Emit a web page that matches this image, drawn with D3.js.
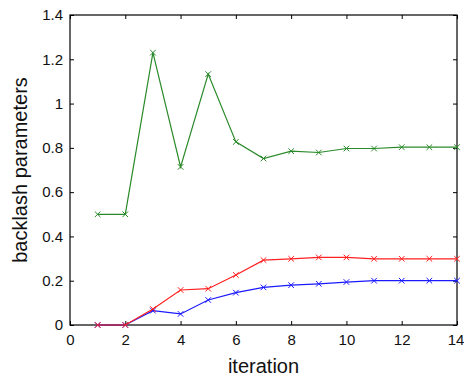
<!DOCTYPE html>
<html>
<head>
  <script src="https://d3js.org/d3.v7.min.js"></script>
  <style>
    body { margin: 0; background: #fff; }
    text { font-family: "Liberation Sans", Arial, sans-serif; }
  </style>
</head>
<body>
<div id="chart"></div>
<script>
// iteration values
const iterations = [1, 2, 3, 4, 5, 6, 7, 8, 9, 10, 11, 12, 13, 14];

// series
const greenVals = [0.50, 0.50, 1.23, 0.714, 1.133, 0.827, 0.752, 0.785, 0.779, 0.797, 0.797, 0.803, 0.803, 0.803];
const blueVals  = [0, 0, 0.065, 0.05, 0.113, 0.146, 0.17, 0.18, 0.186, 0.194, 0.2, 0.2, 0.2, 0.2];
const redVals   = [0, 0, 0.072, 0.158, 0.164, 0.226, 0.293, 0.299, 0.305, 0.305, 0.299, 0.299, 0.299, 0.299];

const xTicks = [0, 2, 4, 6, 8, 10, 12, 14];
const yTicks = [0, 0.2, 0.4, 0.6, 0.8, 1, 1.2, 1.4];
const yTickLabels = ["0", "0.2", "0.4", "0.6", "0.8", "1", "1.2", "1.4"];

const W = 464, H = 378;
const margin = { top: 15, right: 7, bottom: 53, left: 70 };
const width = W - margin.left - margin.right;
const height = H - margin.top - margin.bottom;

const svg = d3.select("#chart").append("svg")
  .attr("width", W)
  .attr("height", H);

const g = svg.append("g")
  .attr("transform", `translate(${margin.left},${margin.top})`);

const x = d3.scaleLinear().domain([0, 14]).range([0, width]);
const y = d3.scaleLinear().domain([0, 1.4]).range([height, 0]);

// axes with inward ticks
function styleAxis(sel, hideText) {
  sel.select(".domain").remove();
  sel.selectAll("line").attr("stroke", "#000");
  sel.selectAll("text")
    .attr("font-size", 15)
    .attr("fill", "#111");
  if (hideText) sel.selectAll("text").remove();
}

g.append("g")
  .attr("transform", `translate(0,${height})`)
  .call(d3.axisBottom(x).tickValues(xTicks).tickSizeInner(-4).tickSizeOuter(0).tickPadding(9).tickFormat(d3.format("d")))
  .call(s => styleAxis(s, false))
  .call(s => s.selectAll("text").filter(d => d === 14).attr("dx", -1.5)); // keep "14" inside the window

g.append("g")
  .call(d3.axisTop(x).tickValues(xTicks).tickSizeInner(-4).tickSizeOuter(0))
  .call(s => styleAxis(s, true));

g.append("g")
  .call(d3.axisLeft(y).tickValues(yTicks).tickSizeInner(-4).tickSizeOuter(0).tickPadding(7)
    .tickFormat((d, i) => yTickLabels[i]))
  .call(s => styleAxis(s, false));

g.append("g")
  .attr("transform", `translate(${width},0)`)
  .call(d3.axisRight(y).tickValues(yTicks).tickSizeInner(-4).tickSizeOuter(0))
  .call(s => styleAxis(s, true));

// box
g.append("rect")
  .attr("width", width)
  .attr("height", height)
  .attr("fill", "none")
  .attr("stroke", "#000")
  .attr("stroke-width", 1.2);

const series = [
  { color: "#2a8a2a", vals: greenVals },
  { color: "#1a1aff", vals: blueVals },
  { color: "#ff2020", vals: redVals }
];

const line = d3.line()
  .x((d, i) => x(iterations[i]))
  .y(d => y(d));

series.forEach(s => {
  g.append("path")
    .datum(s.vals)
    .attr("fill", "none")
    .attr("stroke", s.color)
    .attr("stroke-width", 1.2)
    .attr("d", line);

  const r = 2.8;
  g.append("g").selectAll("path")
    .data(s.vals)
    .join("path")
    .attr("d", (d, i) => {
      const cx = x(iterations[i]), cy = y(d);
      return `M${cx - r},${cy - r}L${cx + r},${cy + r}M${cx - r},${cy + r}L${cx + r},${cy - r}`;
    })
    .attr("stroke", s.color)
    .attr("stroke-width", 1);
});

// axis labels
svg.append("text")
  .attr("x", margin.left + width / 2)
  .attr("y", 373)
  .attr("text-anchor", "middle")
  .attr("font-size", 20)
  .attr("fill", "#111")
  .text("iteration");

svg.append("text")
  .attr("transform", `translate(27,${margin.top + height / 2}) rotate(-90)`)
  .attr("text-anchor", "middle")
  .attr("font-size", 20)
  .attr("fill", "#111")
  .text("backlash parameters");
</script>
</body>
</html>
